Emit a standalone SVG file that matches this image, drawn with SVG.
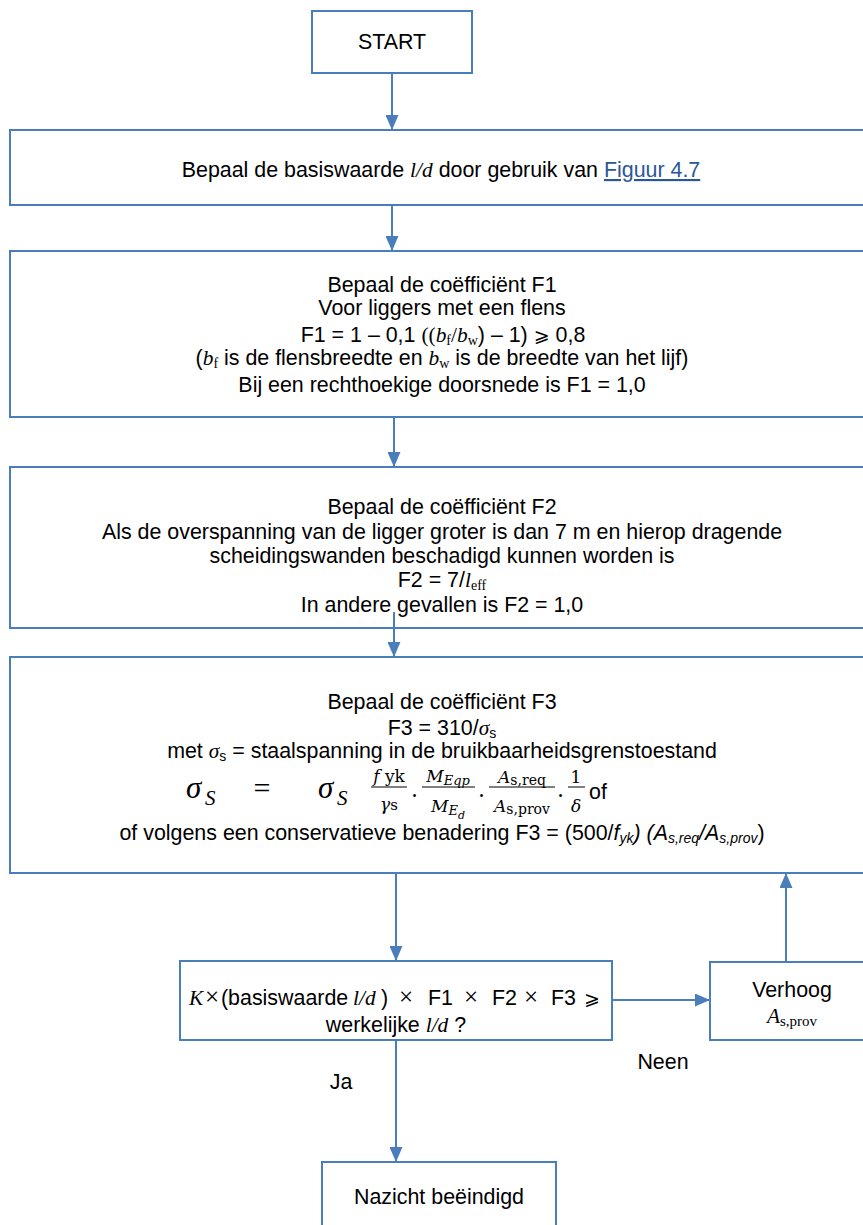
<svg xmlns="http://www.w3.org/2000/svg" width="863" height="1225" viewBox="0 0 863 1225">
<style>
.bx{fill:#fff;stroke:#4A7EBB;stroke-width:2}
.cn{fill:none;stroke:#4A7EBB;stroke-width:2;marker-end:url(#ah)}
.t{font-family:"Liberation Sans",Arial,sans-serif;font-size:21.4px;fill:#000;text-anchor:middle}
.ts{font-family:"Liberation Sans",Arial,sans-serif;font-size:21.4px;fill:#000}
.ti{font-family:"Liberation Serif","Times New Roman",serif;font-style:italic}
.tr{font-family:"Liberation Serif","Times New Roman",serif;font-style:normal}
.mth{font-family:"DejaVu Sans",sans-serif}
.fm{font-family:"DejaVu Serif",serif;fill:#000}
.fs{font-family:"Liberation Serif","Times New Roman",serif;fill:#000}
.lnk{fill:#2B579A;text-decoration:underline}
.bar{stroke:#000;stroke-width:1}
</style>
<defs>
<marker id="ah" markerUnits="userSpaceOnUse" markerWidth="15" markerHeight="13" refX="15" refY="6.5" orient="auto">
<path d="M0,0 L15,6.5 L0,13 z" fill="#4A7EBB"/>
</marker>
</defs>

<g id="start">
<rect class="bx" x="312" y="11" width="160" height="62"/>
<text class="t" x="392" y="49">START</text>
</g>

<g id="basiswaarde">
<rect class="bx" x="10" y="130" width="864" height="75"/>
<text class="t" x="441" y="177">Bepaal de basiswaarde <tspan class="ti">l/d</tspan> door gebruik van <tspan class="lnk">Figuur 4.7</tspan></text>
</g>

<g id="f1">
<rect class="bx" x="10" y="251" width="864" height="166"/>
<text class="t" x="442" y="292">Bepaal de coëfficiënt F1</text>
<text class="t" x="442" y="315">Voor liggers met een flens</text>
<text class="t" x="443" y="342">F1 = 1 – 0,1 <tspan class="tr">((</tspan><tspan class="ti">b</tspan><tspan class="tr" font-size="14" dy="3">f</tspan><tspan class="tr" dy="-3">/</tspan><tspan class="ti">b</tspan><tspan class="tr" font-size="14" dy="3">w</tspan><tspan dy="-3">) – 1) </tspan><tspan class="mth" font-size="19">⩾</tspan> 0,8</text>
<text class="t" x="442" y="365">(<tspan class="ti">b</tspan><tspan class="tr" font-size="14" dy="3">f</tspan><tspan dy="-3"> is de flensbreedte en </tspan><tspan class="ti">b</tspan><tspan class="tr" font-size="14" dy="3">w</tspan><tspan dy="-3"> is de breedte van het lijf)</tspan></text>
<text class="t" x="442" y="392">Bij een rechthoekige doorsnede is F1 = 1,0</text>
</g>

<g id="f2">
<rect class="bx" x="10" y="467" width="864" height="161"/>
<text class="t" x="442" y="514">Bepaal de coëfficiënt F2</text>
<text class="t" x="442" y="539">Als de overspanning van de ligger groter is dan 7 m en hierop dragende</text>
<text class="t" x="442" y="563">scheidingswanden beschadigd kunnen worden is</text>
<text class="t" x="442" y="587">F2 = 7/<tspan class="ti">l</tspan><tspan class="tr" font-size="14" dy="3">eff</tspan></text>
<text class="t" x="442" y="612">In andere gevallen is F2 = 1,0</text>
</g>

<g id="f3">
<rect class="bx" x="10" y="657" width="864" height="216"/>
<text class="t" x="442" y="709">Bepaal de coëfficiënt F3</text>
<text class="t" x="442" y="735">F3 = 310/<tspan class="ti">σ</tspan><tspan font-size="14" dy="3">s</tspan></text>
<text class="t" x="442" y="758">met <tspan class="ti">σ</tspan><tspan font-size="14" dy="3">s</tspan><tspan dy="-3"> = staalspanning in de bruikbaarheidsgrenstoestand</tspan></text>
<g class="fs">
<text x="186" y="798" font-size="31" font-style="italic">σ</text>
<text x="205" y="805" font-size="21" font-style="italic">S</text>
<text x="262" y="798" font-size="30" text-anchor="middle">=</text>
<text x="318" y="798" font-size="31" font-style="italic">σ</text>
<text x="337" y="805" font-size="21" font-style="italic">S</text>
</g>
<g class="fm">
<text x="389" y="782" font-size="17" text-anchor="middle"><tspan font-style="italic">f</tspan> yk</text>
<line class="bar" x1="371" y1="787" x2="407" y2="787"/>
<text x="389" y="810" font-size="17" text-anchor="middle"><tspan font-style="italic">γ</tspan><tspan font-size="15">s</tspan></text>
<text x="411" y="797" font-size="22">.</text>
<text x="448" y="782" font-size="17" text-anchor="middle" font-style="italic">M<tspan font-size="13" dy="3">Eqp</tspan></text>
<line class="bar" x1="422" y1="787" x2="475" y2="787"/>
<text x="448" y="812" font-size="17" text-anchor="middle" font-style="italic">M<tspan font-size="13" dy="3">E</tspan><tspan font-size="11" dy="4">d</tspan></text>
<text x="478" y="797" font-size="22">.</text>
<text x="522" y="783" font-size="17" text-anchor="middle"><tspan font-style="italic">A</tspan><tspan font-size="14" dy="2">s,req</tspan></text>
<line class="bar" x1="489" y1="787" x2="555" y2="787"/>
<text x="522" y="812" font-size="17" text-anchor="middle"><tspan font-style="italic">A</tspan><tspan font-size="14" dy="2">s,prov</tspan></text>
<text x="557" y="797" font-size="22">.</text>
<text x="576" y="783" font-size="17" text-anchor="middle">1</text>
<line class="bar" x1="568" y1="787" x2="585" y2="787"/>
<text x="576" y="812" font-size="17" text-anchor="middle" font-style="italic">δ</text>
</g>
<text class="ts" x="589" y="799">of</text>
<text class="t" x="442" y="840">of volgens een conservatieve benadering F3 = (500/<tspan font-style="italic">f</tspan><tspan font-style="italic" font-size="14" dy="3">yk</tspan><tspan font-style="italic" dy="-3">) (A</tspan><tspan font-style="italic" font-size="14" dy="3">s,req</tspan><tspan font-style="italic" dy="-3">/A</tspan><tspan font-style="italic" font-size="14" dy="3">s,prov</tspan><tspan dy="-3">)</tspan></text>
</g>

<g id="check">
<rect class="bx" x="180" y="961" width="432" height="79"/>
<text class="ts" y="1005"><tspan class="ti" x="189">K</tspan><tspan class="tr" font-size="25" x="205">×</tspan><tspan x="221">(basiswaarde</tspan><tspan class="ti" x="353">l/d</tspan><tspan x="381">)</tspan><tspan class="tr" font-size="25" x="399">×</tspan><tspan x="428">F1</tspan><tspan class="tr" font-size="25" x="464">×</tspan><tspan x="492">F2</tspan><tspan class="tr" font-size="25" x="524">×</tspan><tspan x="551">F3</tspan><tspan class="mth" font-size="19" x="584">⩾</tspan></text>
<text class="t" x="396" y="1032">werkelijke <tspan class="ti">l/d</tspan> ?</text>
</g>

<g id="verhoog">
<rect class="bx" x="710" y="962" width="164" height="78"/>
<text class="t" x="792" y="997">Verhoog</text>
<text class="t" x="792" y="1023"><tspan class="ti">A</tspan><tspan class="tr" font-size="15" dy="3">s,prov</tspan></text>
</g>

<g id="nazicht">
<rect class="bx" x="322" y="1162" width="234" height="80"/>
<text class="t" x="439" y="1204">Nazicht beëindigd</text>
</g>

<g id="labels">
<text class="t" x="663" y="1069">Neen</text>
<text class="t" x="341" y="1089">Ja</text>
</g>

<g id="connectors">
<path class="cn" d="M392,73 V130"/>
<path class="cn" d="M392,205 V251"/>
<path class="cn" d="M394,417 V467"/>
<path class="cn" d="M394,612 V657"/>
<path class="cn" d="M396,873 V961"/>
<path class="cn" d="M612,1000 H710"/>
<path class="cn" d="M786,962 V873"/>
<path class="cn" d="M396,1040 V1162"/>
</g>
</svg>
